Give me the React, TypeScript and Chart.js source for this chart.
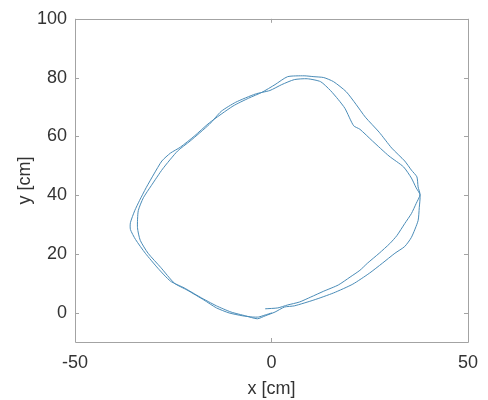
import React, { useEffect, useRef } from "react";
import { Chart, registerables } from "chart.js";

Chart.register(...registerables);

const X_TICKS = [-50, 0, 50];
const Y_TICKS = [0, 20, 40, 60, 80, 100];

// Path x positions [cm] (two laps)
const PATH_X = [
  -1.6, 1.6, 4.1, 7.1, 10.0, 13.3, 17.0, 20.0, 22.5, 24.4, 27.4, 30.1, 31.9, 33.9, 35.6, 36.8, 37.8, 37.3, 37.0, 35.6,
  33.9, 30.6, 27.4, 23.9, 21.5, 19.0, 15.8, 13.3, 10.8, 8.3, 4.1, 0.9, -2.4, -5.8, -9.8, -15.8, -19.7, -23.2, -25.7, -27.9,
  -29.9, -31.9, -33.6, -34.8, -35.9, -35.9, -34.6, -32.1, -28.9, -25.7, -22.2, -18.2, -14.0, -10.3, -6.6, -3.6, -1.6, 0.9, 3.3,
  5.8, 10.8, 15.8, 20.7, 24.9, 28.2, 31.4, 33.9, 35.6, 37.3, 37.6, 37.8, 36.8, 35.6, 33.6, 29.9, 25.7, 22.5, 20.9, 18.7,
  17.0, 15.0, 12.5, 9.1, 5.8, 2.6, -0.4, -4.1, -9.1, -12.8, -15.8, -20.7, -23.9, -27.7, -30.6, -32.6, -33.9, -34.1, -33.4,
  -31.4, -28.2, -24.7, -21.5, -17.2, -14.0, -10.8, -7.3, -4.8, -3.3, -1.6, 0.1,
];
// Path y positions [cm]
const PATH_Y = [
  1.3, 1.6, 2.6, 3.6, 5.3, 7.3, 9.4, 12.1, 14.4, 16.8, 20.2, 23.5, 26.2, 30.3, 33.7, 37.1, 40.1, 42.8, 46.2, 48.5,
  51.6, 56.0, 61.4, 66.5, 70.9, 75.2, 78.6, 80.0, 80.3, 80.6, 80.3, 77.6, 75.0, 73.0, 70.3, 64.6, 60.0, 56.3, 54.3, 51.6,
  47.2, 42.5, 38.1, 34.7, 30.6, 28.3, 24.9, 20.2, 15.1, 10.7, 8.4, 5.3, 2.3, 0.2, -1.1, -2.1, -1.1, 0.2, 1.9,
  2.3, 4.3, 6.7, 9.7, 13.4, 16.8, 20.2, 22.5, 25.6, 31.3, 35.7, 40.1, 42.5, 45.8, 49.6, 53.3, 58.4, 62.4, 63.6, 69.5,
  72.5, 75.6, 78.6, 79.6, 79.3, 77.6, 75.6, 74.4, 71.6, 68.5, 64.1, 58.4, 55.0, 48.9, 43.2, 39.1, 34.7, 28.9, 24.6,
  20.2, 15.4, 10.0, 7.7, 4.3, 1.6, -0.1, -1.1, -1.5, -1.5, -0.8, -0.1,
];

const FONT = "'Liberation Sans', Arial, Helvetica, sans-serif";
const TEXT = "#333333";
const FRAME = "#a3a3a3";

const framePlugin = {
  id: "matlabFrame",
  afterDraw(chart: any) {
    const { ctx, chartArea } = chart;
    const { left, right, top, bottom } = chartArea;
    const xs = chart.scales.x;
    const ys = chart.scales.y;
    ctx.save();
    ctx.strokeStyle = FRAME;
    ctx.lineWidth = 1;
    ctx.beginPath();
    ctx.rect(Math.round(left) + 0.5, Math.round(top) + 0.5, Math.round(right - left), Math.round(bottom - top));
    ctx.stroke();
    const tl = 4;
    ctx.beginPath();
    X_TICKS.forEach((v) => {
      const p = Math.round(xs.getPixelForValue(v)) + 0.5;
      ctx.moveTo(p, bottom);
      ctx.lineTo(p, bottom - tl);
      ctx.moveTo(p, top);
      ctx.lineTo(p, top + tl);
    });
    Y_TICKS.forEach((v) => {
      const p = Math.round(ys.getPixelForValue(v)) + 0.5;
      ctx.moveTo(left, p);
      ctx.lineTo(left + tl, p);
      ctx.moveTo(right, p);
      ctx.lineTo(right - tl, p);
    });
    ctx.stroke();
    ctx.restore();
  },
};

const bgPlugin = {
  id: "bg",
  beforeDraw(chart: any) {
    const { ctx, width, height } = chart;
    ctx.save();
    ctx.fillStyle = "#ffffff";
    ctx.fillRect(0, 0, width, height);
    ctx.restore();
  },
};

export default function App() {
  const ref = useRef<HTMLCanvasElement | null>(null);

  useEffect(() => {
    if (!ref.current) return;
    const points = PATH_X.map((x, i) => ({ x, y: PATH_Y[i] }));
    const chart = new Chart(ref.current, {
      type: "scatter",
      data: {
        datasets: [
          {
            data: points,
            showLine: true,
            borderColor: "#4a8cb8",
            backgroundColor: "#4a8cb8",
            borderWidth: 1,
            pointRadius: 0,
            tension: 0.2,
          },
        ],
      },
      options: {
        animation: false,
        responsive: false,
        maintainAspectRatio: false,
        layout: { padding: { top: 17, right: 10, left: 0, bottom: 0 } },
        plugins: { legend: { display: false }, tooltip: { enabled: false } },
        scales: {
          x: {
            type: "linear",
            min: -50,
            max: 50,
            afterBuildTicks: (s: any) => {
              s.ticks = X_TICKS.map((v) => ({ value: v }));
            },
            afterFit: (s: any) => {
              s.height = 58;
            },
            grid: { display: false, drawTicks: false },
            border: { display: false },
            ticks: { font: { family: FONT, size: 18 }, color: TEXT, padding: 10, maxRotation: 0 },
            title: { display: true, text: "x [cm]", font: { family: FONT, size: 18 }, color: TEXT, padding: { top: 0, bottom: 0 } },
          },
          y: {
            type: "linear",
            min: -10,
            max: 100,
            afterBuildTicks: (s: any) => {
              s.ticks = Y_TICKS.map((v) => ({ value: v }));
            },
            afterFit: (s: any) => {
              s.width = 75;
            },
            grid: { display: false, drawTicks: false },
            border: { display: false },
            ticks: { font: { family: FONT, size: 18 }, color: TEXT, padding: 8 },
            title: { display: true, text: "y [cm]", font: { family: FONT, size: 18 }, color: TEXT, padding: { top: 14, bottom: 0 } },
          },
        },
      },
      plugins: [bgPlugin, framePlugin],
    });
    return () => chart.destroy();
  }, []);

  return (
    <div style={{ position: "absolute", left: 0, top: 0, width: 488, height: 400 }}>
      <canvas ref={ref} width={488} height={400} style={{ display: "block" }} />
    </div>
  );
}
